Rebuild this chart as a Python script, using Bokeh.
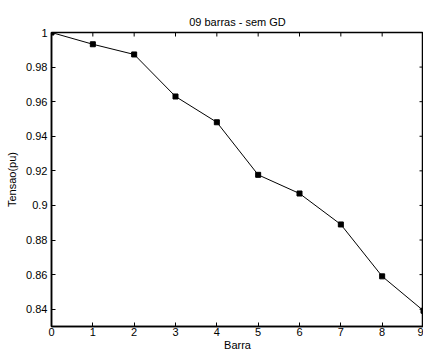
import math
from bokeh.plotting import figure
from bokeh.models import FixedTicker, Range1d
from bokeh.embed import file_html
from bokeh.resources import INLINE

barra = [0, 1, 2, 3, 4, 5, 6, 7, 8, 9]
tensao = [1.0, 0.9932, 0.9873, 0.963, 0.9481, 0.9177, 0.9069, 0.889, 0.859, 0.8391]
x_ticks = [0, 1, 2, 3, 4, 5, 6, 7, 8, 9]
y_ticks = [0.84, 0.86, 0.88, 0.9, 0.92, 0.94, 0.96, 0.98, 1]
y_labels = {1: "1"}
x_min, x_max = 0, 9
y_min, y_max = 0.83, 1.0

FONT = "Liberation Sans"
FS = "11px"

p = figure(width=423, height=353, x_range=Range1d(x_min, x_max), y_range=Range1d(y_min, y_max),
           output_backend="svg", toolbar_location=None,
           min_border_left=51, min_border_right=0, min_border_top=32, min_border_bottom=27)
p.background_fill_color = "white"
p.border_fill_color = "white"
p.outline_line_color = "black"
p.outline_line_width = 1.5
p.xgrid.visible = False
p.ygrid.visible = False

p.title.text = "09 barras - sem GD"
p.title.align = "center"
p.title.text_font = FONT
p.title.text_font_size = FS
p.title.text_font_style = "normal"
p.title.text_color = "black"
p.title.standoff = 10

def style(ax):
    ax.major_tick_in = 4
    ax.major_tick_out = 0
    ax.minor_tick_in = 0
    ax.minor_tick_out = 0
    ax.axis_line_width = 1.5
    ax.axis_line_color = "black"
    ax.major_tick_line_color = "black"
    ax.major_label_text_font = FONT
    ax.major_label_text_font_size = FS
    ax.major_label_text_color = "black"
    ax.axis_label_text_font = FONT
    ax.axis_label_text_font_size = FS
    ax.axis_label_text_font_style = "normal"
    ax.axis_label_text_color = "black"
    ax.major_label_standoff = 4
    ax.axis_label_standoff = 5

p.xaxis.ticker = FixedTicker(ticks=x_ticks)
p.yaxis.ticker = FixedTicker(ticks=y_ticks)
p.yaxis.major_label_overrides = y_labels
p.xaxis.axis_label = "Barra"
p.yaxis.axis_label = "Tensao(pu)"
style(p.xaxis[0])
style(p.yaxis[0])
p.xaxis[0].axis_label_standoff = 0
p.xaxis[0].major_label_standoff = 1

# inward ticks on the top and right edges of the box
p.scatter(x_ticks, [y_max] * len(x_ticks), marker="dash", angle=math.pi / 2, size=8,
          line_color="black", line_width=1)
p.scatter([x_max] * len(y_ticks), y_ticks, marker="dash", size=8,
          line_color="black", line_width=1)

p.line(barra, tensao, line_color="black", line_width=1)
p.scatter(barra, tensao, marker="square", size=5, fill_color="black", line_color="black")

open("out.html", "w").write(file_html(p, INLINE))
